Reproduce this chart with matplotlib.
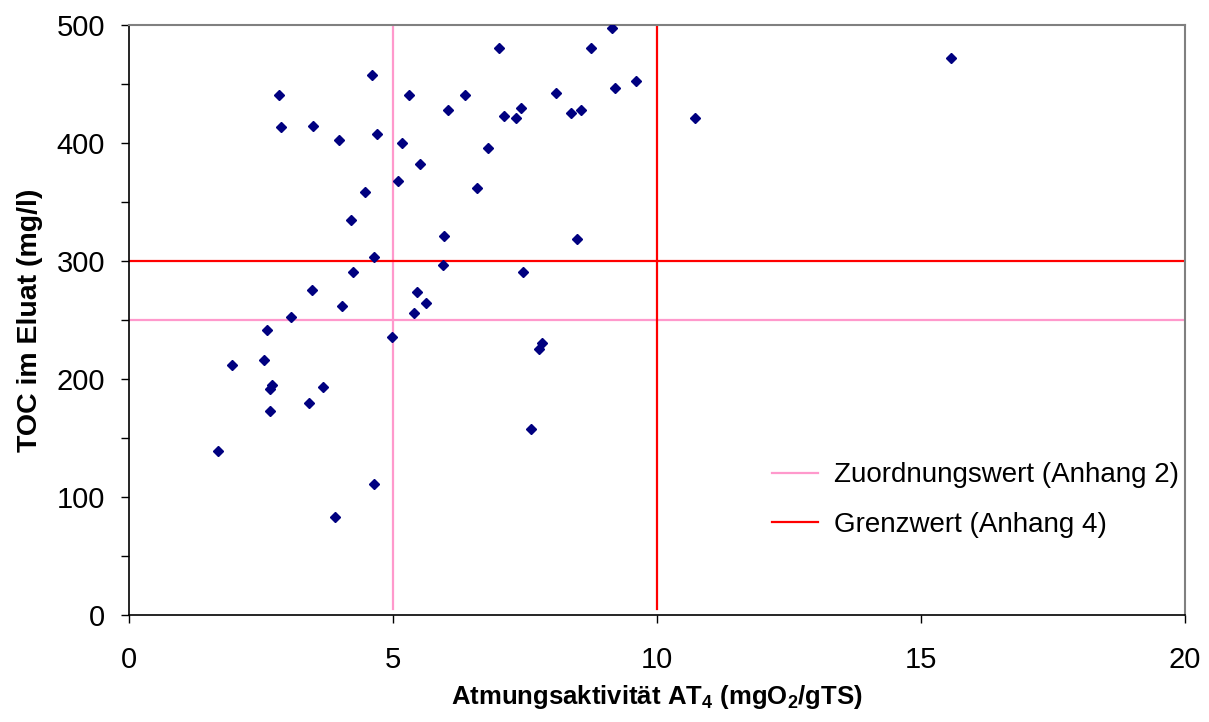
import matplotlib.pyplot as plt
from matplotlib.ticker import MultipleLocator

plt.rcParams['font.family'] = ['Liberation Sans', 'DejaVu Sans']
plt.rcParams['mathtext.fontset'] = 'custom'
plt.rcParams['mathtext.rm'] = 'Liberation Sans'
plt.rcParams['mathtext.bf'] = 'Liberation Sans:bold'

# Messwerte: Atmungsaktivitaet AT4 (mgO2/gTS) und TOC im Eluat (mg/l)
at4 = [1.70, 1.95, 2.57, 2.63, 2.67, 2.72, 2.67, 2.84, 2.89, 3.08,
       3.42, 3.48, 3.50, 3.69, 3.91, 3.99, 4.05, 4.22, 4.24, 4.48,
       4.61, 4.65, 4.65, 4.71, 4.99, 5.11, 5.18, 5.31, 5.41, 5.47,
       5.64, 5.52, 5.98, 5.96, 6.05, 6.37, 6.60, 6.81, 7.02, 7.11,
       7.34, 7.43, 7.47, 7.62, 7.77, 7.83, 8.10, 8.38, 8.49, 8.57,
       8.76, 9.16, 9.21, 9.61, 10.73, 15.57]
toc = [139, 212, 216, 242, 192, 195, 173, 441, 414, 253,
       180, 276, 415, 193, 83, 403, 262, 335, 291, 359,
       458, 304, 111, 408, 236, 368, 400, 441, 256, 274,
       265, 382, 321, 297, 428, 441, 362, 396, 481, 423,
       421, 430, 291, 158, 226, 231, 443, 426, 319, 428,
       481, 498, 447, 453, 421, 472]

# Zuordnungswert (Anhang 2) und Grenzwert (Anhang 4)
zuordnung_at4 = 5
zuordnung_toc = 250
grenz_at4 = 10
grenz_toc = 300

pink = '#FF99CC'
red = '#FF0000'

fig = plt.figure(figsize=(12.09, 7.22), dpi=100)
ax = fig.add_axes([0.1063, 0.148, 0.8739, 0.817])

ax.plot([zuordnung_at4, zuordnung_at4], [5, 500], color=pink, lw=1.6,
        label='Zuordnungswert (Anhang 2)')
ax.plot([0, 20], [zuordnung_toc, zuordnung_toc], color=pink, lw=1.6)
ax.plot([grenz_at4, grenz_at4], [5, 500], color=red, lw=1.6,
        label='Grenzwert (Anhang 4)')
ax.plot([0, 20], [grenz_toc, grenz_toc], color=red, lw=1.6)

ax.plot(at4, toc, linestyle='none', marker='D', markersize=5.5,
        color='#000080', zorder=5)

ax.set_xlim(0, 20)
ax.set_ylim(0, 500)
ax.xaxis.set_major_locator(MultipleLocator(5))
ax.yaxis.set_major_locator(MultipleLocator(100))
ax.yaxis.set_minor_locator(MultipleLocator(50))
ax.tick_params(axis='both', which='both', direction='out', length=6,
               width=1, labelsize=21, color='black')
ax.tick_params(axis='x', pad=16)
ax.tick_params(axis='y', pad=11)

for s in ['top', 'right']:
    ax.spines[s].set_color('#808080')
    ax.spines[s].set_linewidth(1.5)
for s in ['left', 'bottom']:
    ax.spines[s].set_color('black')
    ax.spines[s].set_linewidth(1.2)

ax.set_xlabel(r'Atmungsaktivität AT$_\mathbf{4}$ (mgO$_\mathbf{2}$/gTS)',
              fontsize=18.5, fontweight='bold', labelpad=7)
ax.set_ylabel('TOC im Eluat (mg/l)', fontsize=20.5, fontweight='bold',
              labelpad=10)

leg = ax.legend(loc='lower right', bbox_to_anchor=(1.005, 0.112),
                borderaxespad=0, frameon=False, fontsize=20,
                handlelength=1.65, handletextpad=0.6, labelspacing=0.85)

fig.savefig('out.png', dpi=100)
